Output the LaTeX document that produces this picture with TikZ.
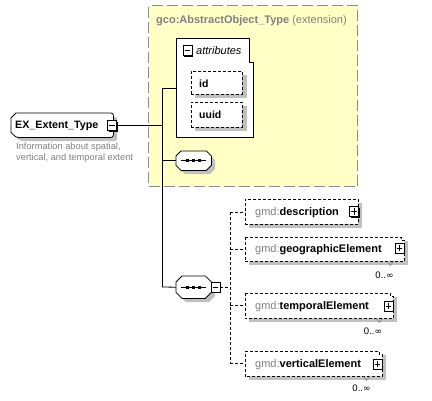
\documentclass[tikz,border=0pt]{standalone}
\usepackage{fontspec}
\setmainfont{Liberation Sans}
\newfontfamily\symfont{DejaVu Sans}
\usetikzlibrary{shadows}
\definecolor{ylw}{RGB}{255,255,198}
\definecolor{ylwedge}{RGB}{140,140,140}
\definecolor{shd}{RGB}{192,192,192}
\definecolor{txtgray}{RGB}{128,128,128}
\begin{document}
\begin{tikzpicture}[x=1pt,y=-1pt,
  ylwbox/.style={draw=ylwedge, fill=ylw, line width=1.3pt, dash pattern=on 11pt off 4pt, inner sep=0pt, anchor=north west},
  frame/.style={draw=none, inner sep=0pt, anchor=north west},
  nodeline/.style={draw=black, line width=0.8pt, fill=white},
  dashbox/.style={draw=black, line width=0.8pt, fill=white, dash pattern=on 3pt off 2pt, inner sep=0pt, anchor=north west},
  dashedge/.style={draw=black, line width=0.8pt, fill=white, dash pattern=on 3pt off 2pt},
  pmbox/.style={draw=black, fill=white, minimum width=9pt, minimum height=10pt, inner sep=0pt, line width=0.8pt,
     drop shadow={shadow xshift=1pt, shadow yshift=-1pt, fill=black, opacity=1}},
  minusbox/.style={pmbox, path picture={\draw[line width=0.9pt] ([xshift=1.8pt]path picture bounding box.west) -- ([xshift=-1.8pt]path picture bounding box.east);}},
  plusbox/.style={pmbox, path picture={\draw[line width=0.9pt] ([xshift=1.8pt]path picture bounding box.west) -- ([xshift=-1.8pt]path picture bounding box.east);
     \draw[line width=0.9pt] ([yshift=-1.8pt]path picture bounding box.north) -- ([yshift=1.8pt]path picture bounding box.south);}},
  conn/.style={draw=black, line width=0.8pt},
  dconn/.style={draw=black, line width=0.8pt, dash pattern=on 3pt off 2pt},
  lbl/.style={anchor=base west, inner sep=0pt, font=\fontsize{11}{13}\selectfont},
  card/.style={inner sep=0pt, font=\fontsize{9.5}{11}\selectfont},
  sqdot/.style={fill=black}
]
\useasboundingbox (0,0) rectangle (432,400);

% ---------- extension box ----------
\node[ylwbox, minimum width=209pt, minimum height=181pt] (ext) at (148,5) {};
\node[lbl, text=txtgray] (extt) at (156,23) {\textbf{gco:AbstractObject\_Type} (extension)};

% ---------- attributes ----------
\node[frame, minimum width=77pt, minimum height=99pt] (attr) at (176,38) {};
\draw[nodeline] (attr.north west) -- ([xshift=-4pt]attr.north east) -- ([xshift=-4pt,yshift=-24pt]attr.north east)
  -- ([yshift=-24pt]attr.north east) -- (attr.south east) -- (attr.south west) -- cycle;
\node[minusbox] (attrmin) at (187.5,50.5) {};
\node[lbl, font=\fontsize{11}{13}\selectfont\itshape] (attrt) at (196,54) {attributes};

\fill[shd] (195,75) rectangle (247,98);
\node[dashbox, minimum width=51pt, minimum height=23pt] (id) at (191,71) {};
\node[lbl, font=\fontsize{10.5}{12}\selectfont\bfseries] (idt) at (199,87) {id};
\fill[shd] (195,106) rectangle (247,131);
\node[dashbox, minimum width=51pt, minimum height=25pt] (uuid) at (191,102) {};
\node[lbl, font=\fontsize{10.5}{12}\selectfont\bfseries] (uuidt) at (199,118.5) {uuid};

% ---------- EX_Extent_Type ----------
\fill[shd, rounded corners=2pt] (20,117) -- (117,117) -- (117,141) -- (20,141) [sharp corners] -- (15,136) -- (15,122) -- cycle;
\node[frame, minimum width=102pt, minimum height=24pt] (ex) at (11,113) {};
\draw[nodeline] ([xshift=5pt]ex.north west) [rounded corners=2.5pt] -- (ex.north east) -- (ex.south east) -- ([xshift=5pt]ex.south west)
  [sharp corners] -- ([yshift=5pt]ex.south west) -- ([yshift=-5pt]ex.north west) -- cycle;
\node[lbl, font=\fontsize{10.7}{12}\selectfont\bfseries] (ext1) at (15,128.5) {EX\_Extent\_Type};
\node[minusbox] (exmin) at (112,125.5) {};
\node[anchor=north west, inner sep=0pt, align=left, text=txtgray, font=\fontsize{9.3}{11}\selectfont] (exdoc) at (16,142.5)
  {Information about spatial,\\vertical, and temporal extent};

% ---------- sequence 1 ----------
\fill[shd] (185,155) -- (210,155) -- (215,160) -- (215,169) -- (210,174) -- (185,174) -- (180,169) -- (180,160) -- cycle;
\node[frame, minimum width=35pt, minimum height=19pt] (seqa) at (176,151) {};
\draw[nodeline] ([xshift=5pt]seqa.north west) -- ([xshift=-5pt]seqa.north east) -- ([yshift=-5pt]seqa.north east)
  -- ([yshift=5pt]seqa.south east) -- ([xshift=-5pt]seqa.south east) -- ([xshift=5pt]seqa.south west)
  -- ([yshift=5pt]seqa.south west) -- ([yshift=-5pt]seqa.north west) -- cycle;
\draw[conn] ([xshift=-12.5pt]seqa.center) -- ([xshift=12.5pt]seqa.center);
\foreach \dx in {-6,0,6} \fill[sqdot] ([xshift=\dx pt-1.6pt, yshift=-1.6pt]seqa.center) rectangle ([xshift=\dx pt+1.6pt, yshift=1.6pt]seqa.center);

% ---------- sequence 2 ----------
\fill[shd] (186,280) -- (209,280) -- (215,286) -- (215,296) -- (209,302) -- (186,302) -- (180,296) -- (180,286) -- cycle;
\node[frame, minimum width=35pt, minimum height=22pt] (seqb) at (176,276) {};
\draw[nodeline] ([xshift=6pt]seqb.north west) -- ([xshift=-6pt]seqb.north east) -- ([yshift=-6pt]seqb.north east)
  -- ([yshift=6pt]seqb.south east) -- ([xshift=-6pt]seqb.south east) -- ([xshift=6pt]seqb.south west)
  -- ([yshift=6pt]seqb.south west) -- ([yshift=-6pt]seqb.north west) -- cycle;
\draw[conn] ([xshift=-12.5pt]seqb.center) -- ([xshift=12.5pt]seqb.center);
\foreach \dx in {-6,0,6} \fill[sqdot] ([xshift=\dx pt-1.6pt, yshift=-1.6pt]seqb.center) rectangle ([xshift=\dx pt+1.6pt, yshift=1.6pt]seqb.center);
\node[minusbox] (seqbmin) at (215.5,287) {};

% ---------- solid connectors ----------
\coordinate (ja) at (162,88);
\coordinate (jx) at (162,125.5);
\coordinate (jb) at (162,287);
\draw[conn] (exmin.east) -- (jx);
\draw[conn] (ja) -- (jb);
\draw[conn] (ja) -- (attr.west |- ja);
\draw[conn] (ja |- seqa.west) -- (seqa.west);
\draw[conn] (jb) -- (seqb.west);

% ---------- elements ----------
% description
\fill[shd] (249,203) rectangle (362,228);
\node[dashbox, minimum width=113pt, minimum height=25pt] (desc) at (245,199) {};
\node[lbl] (desct) at (255,215.5) {\textcolor{txtgray}{gmd:}\textbf{description}};
\node[plusbox] (descp) at (354,211.5) {};

% geographicElement
\fill[shd] (249,241) rectangle (408,265);
\node[frame, minimum width=159pt, minimum height=24pt] (geo) at (245,237) {};
\draw[dashedge] (geo.north west) -- ([xshift=-3pt]geo.north east) -- ([xshift=-3pt,yshift=-3pt]geo.north east)
  -- ([yshift=-3pt]geo.north east) -- (geo.south east) -- (geo.south west) -- cycle;
\node[lbl] (geot) at (255,252.5) {\textcolor{txtgray}{gmd:}\textbf{geographicElement}};
\node[plusbox] (geop) at (399.5,248) {};
\draw[draw=txtgray, line width=0.6pt] ([xshift=-17pt]geo.south east) -- ([xshift=-14pt,yshift=-4pt]geo.south east) -- ([xshift=-11pt]geo.south east);
\node[card] (geoc) at (384.5,275) {0..{\symfont\fontsize{9}{11}\selectfont ∞}};

% temporalElement
\fill[shd] (249,297) rectangle (397,322);
\node[frame, minimum width=148pt, minimum height=25pt] (tem) at (245,293) {};
\draw[dashedge] (tem.north west) -- ([xshift=-3pt]tem.north east) -- ([xshift=-3pt,yshift=-3pt]tem.north east)
  -- ([yshift=-3pt]tem.north east) -- (tem.south east) -- (tem.south west) -- cycle;
\node[lbl] (temt) at (255,309.5) {\textcolor{txtgray}{gmd:}\textbf{temporalElement}};
\node[plusbox] (temp) at (388.5,306) {};
\draw[draw=txtgray, line width=0.6pt] ([xshift=-17pt]tem.south east) -- ([xshift=-14pt,yshift=-4pt]tem.south east) -- ([xshift=-11pt]tem.south east);
\node[card] (temc) at (373,331) {0..{\symfont\fontsize{9}{11}\selectfont ∞}};

% verticalElement
\fill[shd] (249,355) rectangle (386,380);
\node[frame, minimum width=137pt, minimum height=25pt] (ver) at (245,351) {};
\draw[dashedge] (ver.north west) -- ([xshift=-3pt]ver.north east) -- ([xshift=-3pt,yshift=-3pt]ver.north east)
  -- ([yshift=-3pt]ver.north east) -- (ver.south east) -- (ver.south west) -- cycle;
\node[lbl] (vert) at (255,367.5) {\textcolor{txtgray}{gmd:}\textbf{verticalElement}};
\node[plusbox] (verp) at (377.5,364) {};
\draw[draw=txtgray, line width=0.6pt] ([xshift=-19pt]ver.south east) -- ([xshift=-16pt,yshift=-4pt]ver.south east) -- ([xshift=-13pt]ver.south east);
\node[card] (verc) at (361.5,388) {0..{\symfont\fontsize{9}{11}\selectfont ∞}};

% ---------- dashed connectors ----------
\coordinate (dj) at (230,287);
\draw[dconn] (seqbmin.east) -- (dj);
\draw[dconn] (dj |- desc.west) -- (dj |- ver.west);
\draw[dconn] (dj |- desc.west) -- (desc.west);
\draw[dconn] (dj |- geo.west) -- (geo.west);
\draw[dconn] (dj |- tem.west) -- (tem.west);
\draw[dconn] (dj |- ver.west) -- (ver.west);
\end{tikzpicture}
\end{document}
